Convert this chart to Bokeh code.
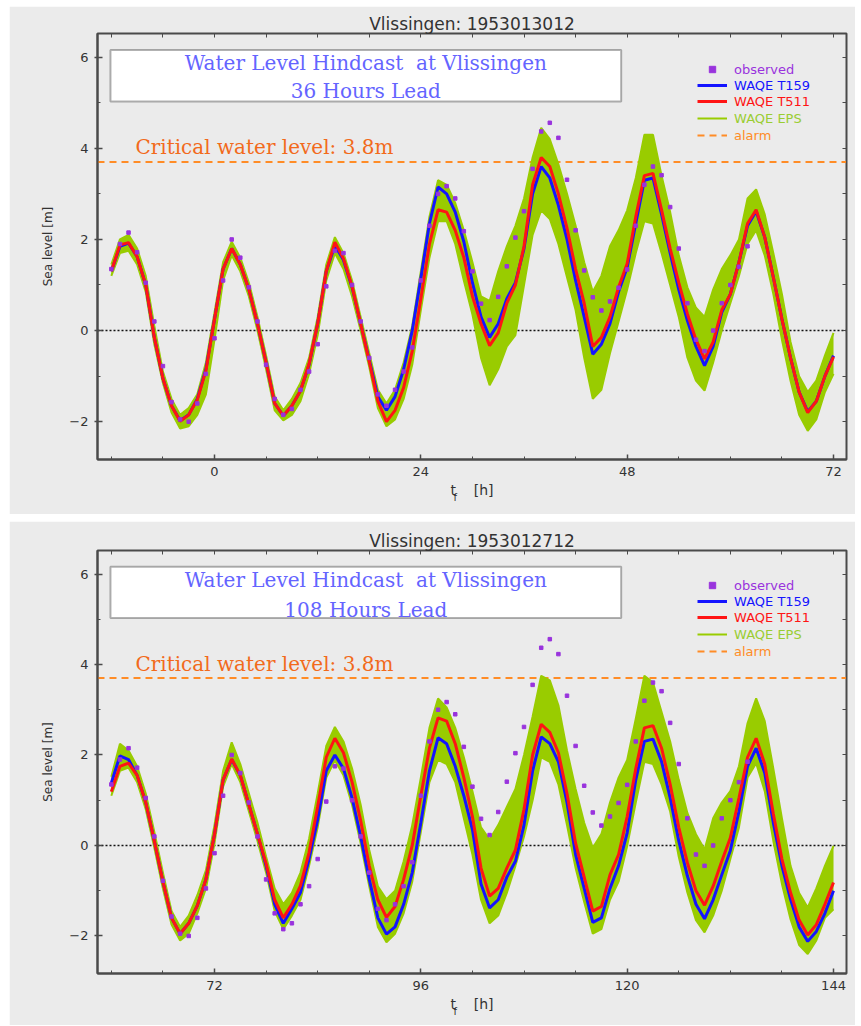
from bokeh.plotting import figure
from bokeh.models import (Range1d, FixedTicker, LinearAxis, BoxAnnotation, Label,
                          Legend, LegendItem)
from bokeh.layouts import column
from bokeh.embed import file_html
from bokeh.resources import INLINE

# ---------------- data ----------------
top_hours = list(range(-12, 73))
top_t159 = [1.30, 1.85, 1.92, 1.62, 1.00, -0.15, -1.05, -1.65, -1.98, -1.85, -1.50, -0.85,
            0.25, 1.35, 1.80, 1.45, 0.90, 0.15, -0.70, -1.60, -1.87, -1.65, -1.32, -0.75,
            0.15, 1.30, 1.87, 1.55, 0.95, 0.15, -0.65, -1.45, -1.75, -1.45, -0.85, 0.00,
            1.15, 2.35, 3.15, 3.00, 2.60, 1.95, 1.05, 0.30, -0.15, 0.15, 0.70, 1.05,
            1.80, 3.00, 3.60, 3.35, 2.75, 2.00, 1.10, 0.30, -0.52, -0.30, 0.15, 0.85,
            1.39, 2.35, 3.30, 3.35, 2.55, 1.70, 0.90, 0.22, -0.35, -0.77, -0.35, 0.40,
            0.80, 1.50, 2.30, 2.62, 2.05, 1.17, 0.25, -0.60, -1.35, -1.78, -1.55, -1.00,
            -0.55]
top_t511 = [1.30, 1.88, 1.93, 1.62, 1.00, -0.15, -1.05, -1.65, -1.99, -1.85, -1.52, -0.88,
            0.25, 1.35, 1.80, 1.45, 0.90, 0.15, -0.70, -1.60, -1.87, -1.65, -1.32, -0.73,
            0.15, 1.30, 1.94, 1.58, 0.97, 0.15, -0.68, -1.55, -2.00, -1.75, -1.25, -0.45,
            0.70, 1.90, 2.65, 2.60, 2.20, 1.60, 0.75, 0.15, -0.33, -0.05, 0.60, 1.00,
            1.85, 3.20, 3.80, 3.60, 3.00, 2.25, 1.35, 0.60, -0.35, -0.15, 0.30, 0.95,
            1.47, 2.50, 3.40, 3.45, 2.65, 1.80, 1.05, 0.37, -0.20, -0.62, -0.25, 0.45,
            0.80, 1.50, 2.35, 2.65, 2.05, 1.17, 0.25, -0.60, -1.35, -1.80, -1.55, -1.00,
            -0.58]
top_eps_hi = [1.45, 2.00, 2.10, 1.80, 1.20, 0.10, -0.90, -1.50, -1.85, -1.70, -1.40, -0.70,
              0.40, 1.50, 1.95, 1.60, 1.05, 0.30, -0.55, -1.45, -1.75, -1.50, -1.15, -0.60,
              0.30, 1.45, 2.05, 1.70, 1.10, 0.30, -0.50, -1.30, -1.60, -1.30, -0.70, 0.10,
              1.30, 2.50, 3.30, 3.20, 2.80, 2.20, 1.50, 0.75, 0.65, 1.30, 1.85, 2.30,
              2.90, 3.80, 4.45, 4.20, 3.65, 3.00, 2.30, 1.50, 0.85, 1.20, 1.85, 2.20,
              2.64, 3.35, 4.30, 4.30, 3.40, 2.60, 1.65, 0.95, 0.50, 0.30, 0.90, 1.35,
              1.65, 2.00, 2.90, 3.10, 2.55, 1.70, 0.80, -0.25, -1.00, -1.35, -1.10, -0.55,
              -0.05]
top_eps_lo = [1.20, 1.70, 1.75, 1.45, 0.85, -0.30, -1.15, -1.80, -2.15, -2.10, -1.85, -1.40,
              -0.20, 1.10, 1.65, 1.30, 0.75, 0.00, -0.85, -1.75, -1.97, -1.85, -1.55, -0.95,
              -0.10, 1.10, 1.70, 1.35, 0.75, 0.00, -0.80, -1.70, -2.10, -1.95, -1.50, -0.75,
              0.45, 1.60, 2.40, 2.40, 1.90, 1.10, 0.35, -0.60, -1.20, -0.85, -0.35, -0.10,
              1.00, 2.10, 2.64, 2.45, 1.90, 1.17, 0.45, -0.60, -1.50, -1.30, -0.50, 0.20,
              0.90, 1.70, 2.40, 2.35, 1.70, 1.00, 0.30, -0.59, -1.10, -1.32, -0.70, 0.00,
              0.60, 1.20, 1.90, 2.20, 1.65, 0.80, -0.20, -1.10, -1.85, -2.20, -1.95, -1.35,
              -0.95]

bot_hours = list(range(60, 145))
bot_t159 = [1.38, 1.98, 1.90, 1.55, 0.95, 0.10, -0.80, -1.60, -1.95, -1.72, -1.33, -0.75,
            0.25, 1.45, 1.90, 1.55, 0.90, 0.25, -0.45, -1.30, -1.72, -1.40, -1.04, -0.30,
            0.57, 1.65, 2.00, 1.70, 1.05, 0.20, -0.75, -1.60, -1.96, -1.80, -1.30, -0.60,
            0.50, 1.65, 2.38, 2.25, 1.75, 1.10, 0.35, -0.85, -1.38, -1.20, -0.70, -0.35,
            0.45, 1.65, 2.40, 2.25, 1.85, 0.95, -0.20, -0.95, -1.70, -1.60, -0.95, -0.45,
            0.28, 1.45, 2.30, 2.35, 1.85, 1.05, 0.10, -0.67, -1.30, -1.62, -1.20, -0.65,
            -0.11, 0.75, 1.75, 2.15, 1.60, 0.50, -0.45, -1.19, -1.80, -2.12, -1.90, -1.50,
            -1.00]
bot_t511 = [1.19, 1.75, 1.82, 1.55, 0.95, 0.10, -0.80, -1.60, -1.95, -1.72, -1.33, -0.75,
            0.25, 1.45, 1.91, 1.55, 0.90, 0.25, -0.40, -1.20, -1.60, -1.30, -0.89, -0.15,
            0.86, 1.95, 2.37, 2.05, 1.40, 0.55, -0.45, -1.20, -1.59, -1.35, -0.75, 0.00,
            1.10, 2.15, 2.82, 2.75, 2.25, 1.50, 0.64, -0.50, -1.12, -0.95, -0.50, -0.10,
            0.80, 2.00, 2.68, 2.50, 2.05, 1.15, 0.05, -0.70, -1.45, -1.35, -0.65, -0.20,
            0.64, 1.70, 2.60, 2.65, 2.15, 1.35, 0.40, -0.38, -1.00, -1.32, -0.90, -0.35,
            0.17, 1.05, 1.95, 2.37, 1.80, 0.70, -0.30, -1.04, -1.65, -1.98, -1.75, -1.30,
            -0.82]
bot_eps_hi = [1.52, 2.25, 2.10, 1.75, 1.15, 0.30, -0.60, -1.45, -1.80, -1.55, -1.10, -0.55,
              0.45, 1.65, 2.28, 1.80, 1.15, 0.50, -0.25, -0.95, -1.30, -1.05, -0.60, 0.15,
              1.15, 2.20, 2.62, 2.30, 1.70, 0.90, -0.10, -0.90, -1.19, -1.00, -0.35, 0.45,
              1.50, 2.60, 3.25, 3.05, 2.60, 1.95, 1.20, 0.40, 0.13, 0.45, 0.85, 1.25,
              2.00, 2.85, 3.75, 3.65, 3.10, 2.10, 1.25, 0.50, -0.05, 0.25, 0.95, 1.50,
              1.89, 2.80, 3.75, 3.60, 2.95, 2.30, 1.45, 0.72, 0.25, -0.09, 0.60, 0.95,
              1.20, 1.75, 2.70, 3.25, 2.75, 1.70, 0.60, -0.45, -1.05, -1.37, -0.95, -0.45,
              -0.01]
bot_eps_lo = [1.10, 1.65, 1.72, 1.40, 0.80, -0.05, -0.95, -1.75, -2.10, -1.95, -1.50, -0.95,
              0.05, 1.30, 1.80, 1.40, 0.75, 0.10, -0.60, -1.45, -1.85, -1.55, -1.20, -0.45,
              0.40, 1.50, 1.88, 1.55, 0.90, 0.05, -0.90, -1.80, -2.14, -1.95, -1.50, -0.80,
              0.30, 1.40, 1.89, 1.80, 1.40, 0.60, -0.20, -1.20, -1.72, -1.55, -1.05, -0.45,
              0.20, 1.00, 1.95, 1.85, 1.35, 0.45, -0.50, -1.25, -1.95, -1.85, -1.20, -0.80,
              -0.01, 0.95, 1.85, 1.80, 1.35, 0.75, -0.25, -1.04, -1.65, -1.92, -1.55, -1.00,
              -0.30, 0.40, 1.50, 1.82, 1.20, 0.10, -0.85, -1.63, -2.20, -2.40, -2.10, -1.60,
              -1.41]

# observations, hours after the 1953013012 forecast base
obs_hours = list(range(-12, 63))
obs_level = [1.35, 1.90, 2.15, 1.72, 1.05, 0.20, -0.78, -1.57, -1.95, -2.00, -1.60, -0.95,
             -0.17, 1.10, 2.00, 1.60, 0.95, 0.20, -0.75, -1.50, -1.85, -1.72, -1.30, -0.90,
             -0.30, 0.97, 1.75, 1.70, 1.00, 0.20, -0.60, -1.40, -1.65, -1.30, -0.90, -0.37,
             1.10, 2.30, 3.00, 3.17, 2.90, 2.18, 1.30, 0.59, 0.23, 0.74, 1.41, 2.04,
             2.62, 3.55, 4.37, 4.56, 4.23, 3.31, 2.20, 1.32, 0.73, 0.44, 0.64, 0.94,
             1.34, 2.30, 3.20, 3.60, 3.41, 2.71, 1.80, 0.60, -0.20, -0.45, 0.00, 0.60,
             1.00, 1.40, 1.85]
base_shift_hours = 72  # 1953012712 base is 72 h before 1953013012

top_xticks = [0, 24, 48, 72]
bot_xticks = [72, 96, 120, 144]
y_ticks = [-2, 0, 2, 4, 6]
alarm_level = 3.7
critical_text = "Critical water level: 3.8m"
box_line1 = "Water Level Hindcast\u00a0 at Vlissingen"
titles = ["Vlissingen: 1953013012", "Vlissingen: 1953012712"]
leads = ["36 Hours Lead", "108 Hours Lead"]
x_label = "t\u00a0\u00a0\u00a0\u00a0[h]"
x_label_sub = "f"

# ---------------- styling ----------------
BG = "#ebebeb"
AX = "#4a4a4a"
BLUE = "#1414ff"
RED = "#ff1414"
GREEN = "#99cc00"
PURPLE = "#9933dd"
ORANGE = "#ff8c26"
CRIT = "#f26a1b"
BOXTXT = "#6464ff"


def panel(title, hours, t159, t511, hi, lo, ox, oy, x0, x1, xticks, lead,
          height, btop, bbot, off, lead_y):
    fh = height - btop - bbot
    p = figure(width=846, height=height, x_range=Range1d(x0, x1),
               y_range=Range1d(-2.83, 6.52), output_backend="svg",
               toolbar_location=None, min_border_left=88, min_border_right=9,
               min_border_top=btop, min_border_bottom=bbot,
               background_fill_color=BG, border_fill_color=BG,
               outline_line_color=AX, outline_line_width=2, title=title)
    p.title.align = "center"
    p.title.text_font = "DejaVu Sans"
    p.title.text_font_size = "17px"
    p.title.text_font_style = "normal"
    p.title.text_color = "#333333"
    p.title.standoff = 0
    p.xgrid.visible = False
    p.ygrid.visible = False

    xminor = list(range(xticks[0] - 12, xticks[-1] + 1, 6))
    xa = p.xaxis[0]
    xa.ticker = FixedTicker(ticks=xticks, minor_ticks=xminor)
    ya = p.yaxis[0]
    ya.ticker = FixedTicker(ticks=y_ticks, minor_ticks=list(range(-2, 7)))
    ya.major_label_overrides = {-2: "\u22122"}
    for ax in (xa, ya):
        ax.axis_line_color = AX
        ax.axis_line_width = 2
        ax.major_tick_line_color = AX
        ax.minor_tick_line_color = AX
        ax.major_tick_line_width = 1.5
        ax.major_tick_in = 5
        ax.major_tick_out = 3
        ax.minor_tick_in = 3
        ax.minor_tick_out = 0
        ax.major_label_text_font = "DejaVu Sans"
        ax.major_label_text_font_size = "13px"
        ax.major_label_text_color = "#333333"
        ax.axis_label_text_font = "DejaVu Sans"
        ax.axis_label_text_font_style = "normal"
        ax.axis_label_text_color = "#333333"
    xa.major_tick_out = 0
    xa.major_label_standoff = 7
    xa.axis_label = x_label
    xa.axis_label_text_font_size = "14px"
    xa.axis_label_standoff = 3
    ya.major_label_standoff = 6
    ya.axis_label = "Sea level [m]"
    ya.axis_label_text_font_size = "12px"
    ya.axis_label_standoff = 11

    top_ax = LinearAxis(ticker=FixedTicker(ticks=xminor), major_tick_in=4,
                        major_tick_out=0, major_label_text_font_size="0px",
                        major_label_text_color=None,
                        major_label_overrides={t: "" for t in xminor},
                        major_label_standoff=0, axis_line_color=AX,
                        major_tick_line_color=AX, minor_tick_line_color=None)
    right_ax = LinearAxis(ticker=FixedTicker(ticks=list(range(-2, 7))),
                          major_tick_in=4, major_tick_out=0,
                          major_label_text_font_size="0px",
                          major_label_text_color=None,
                          major_label_overrides={t: "" for t in range(-2, 7)},
                          major_label_standoff=0,
                          axis_line_color=AX, major_tick_line_color=AX,
                          minor_tick_line_color=None)
    p.add_layout(top_ax, "above")
    p.add_layout(right_ax, "right")

    # subscript f of the x-axis label, in the panel below the axis
    p.add_layout(Label(x=356, y=14, x_units="screen", y_units="screen",
                       text=x_label_sub, text_baseline="middle",
                       text_font="DejaVu Sans", text_font_size="10px",
                       text_color="#333333"), "below")

    # reference lines
    p.hspan(y=[0], line_color="#111111", line_width=1.5, line_dash="2 2")
    alarm_r = p.line(x=[x0, x1], y=[alarm_level, alarm_level], line_color=ORANGE,
                     line_width=2, line_dash="7 5")

    # ensemble
    p.varea(x=hours, y1=lo, y2=hi, fill_color=GREEN)
    eps_r = p.line(hours, hi, line_color=GREEN, line_width=2)
    p.line(hours, lo, line_color=GREEN, line_width=2)

    b_r = p.line(hours, t159, line_color=BLUE, line_width=3)
    r_r = p.line(hours, t511, line_color=RED, line_width=3)
    o_r = p.scatter(ox, oy, marker="square", size=3.5, fill_color=PURPLE,
                    line_color=PURPLE)

    # text box
    p.add_layout(BoxAnnotation(left=-12.1 + off, right=47.3 + off, bottom=5.03,
                               top=6.16, fill_color="white", fill_alpha=1.0,
                               line_color="black", line_width=2))
    for txt, yy in ((box_line1, lead_y[0]), (lead, lead_y[1])):
        p.add_layout(Label(x=17.6 + off, y=yy, text=txt, text_align="center",
                           text_baseline="middle", text_font="DejaVu Serif",
                           text_font_size="20px", text_color=BOXTXT))
    p.add_layout(Label(x=-9.2 + off, y=4.02, text=critical_text, text_align="left",
                       text_baseline="middle", text_font="DejaVu Serif",
                       text_font_size="20px", text_color=CRIT))

    # legends (one per item so each label has its own colour)
    rows = [36, 52, 68, 85, 102]
    items = [(o_r, "observed", PURPLE), (b_r, "WAQE T159", BLUE),
             (r_r, "WAQE T511", RED), (eps_r, "WAQE EPS", "#9acd32"),
             (alarm_r, "alarm", ORANGE)]
    for (rend, lab, col), row in zip(items, rows):
        lg = Legend(items=[LegendItem(label=lab, renderers=[rend])],
                    location=(600, fh - row - 8), glyph_width=30, glyph_height=16,
                    label_height=16, label_standoff=7, padding=0, margin=0,
                    spacing=0, border_line_color=None, background_fill_alpha=0,
                    label_text_font="DejaVu Sans", label_text_font_size="13px",
                    label_text_color=col)
        p.add_layout(lg)
    return p


p1 = panel(titles[0], top_hours, top_t159, top_t511, top_eps_hi, top_eps_lo,
           obs_hours, obs_level, -13.61, 73.51, top_xticks, leads[0],
           508, 27, 55, 0, (5.88, 5.25))
p2 = panel(titles[1], bot_hours, bot_t159, bot_t511, bot_eps_hi, bot_eps_lo,
           [h + base_shift_hours for h in obs_hours], obs_level, 58.39, 145.51,
           bot_xticks, leads[1], 504, 29, 51, base_shift_hours, (5.86, 5.2))

layout = column(p1, p2, spacing=7, margin=(6, 0, 0, 9))
open("out.html", "w").write(file_html(layout, INLINE))
